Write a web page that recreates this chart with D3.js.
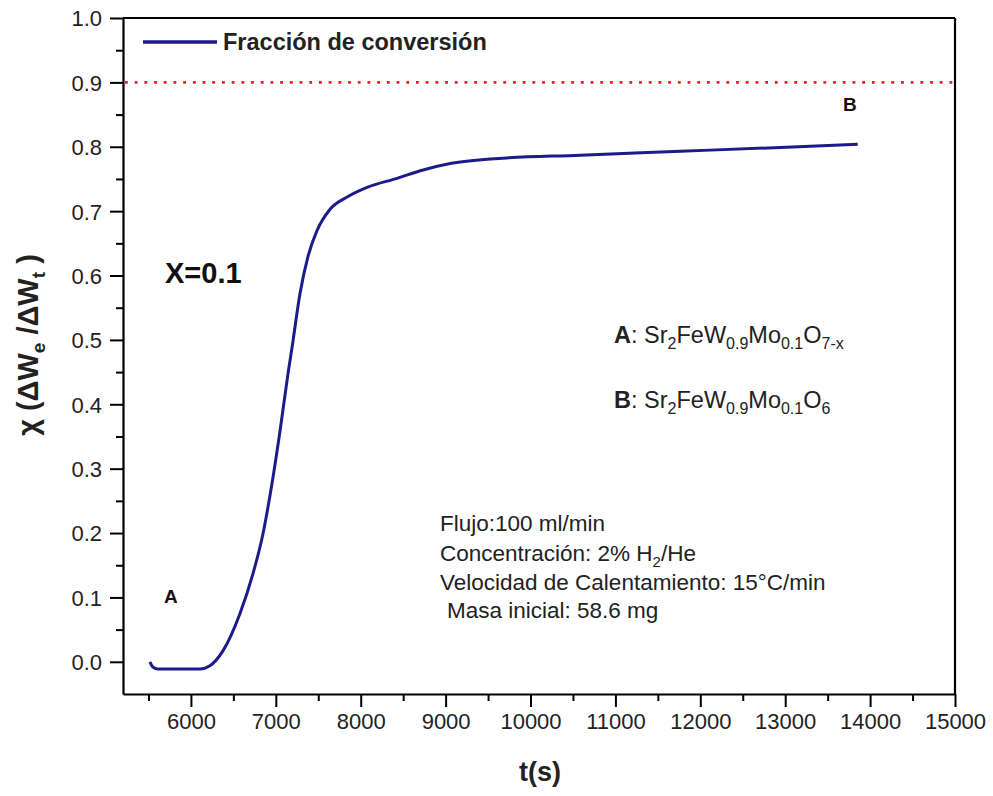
<!DOCTYPE html>
<html>
<head>
<meta charset="utf-8">
<script src="https://cdn.jsdelivr.net/npm/d3@7"></script>
<style>
  html, body { margin: 0; padding: 0; background: #fff; }
  svg { display: block; font-family: Arial, "Liberation Sans", sans-serif; }
</style>
</head>
<body>
<svg id="chart" width="993" height="796"></svg>
<script>
// ---- data ----
const timeS = [5517, 5552, 5611, 5870, 6106, 6224, 6377, 6578, 6731, 6849, 6955, 7050, 7144, 7191, 7285, 7380, 7486, 7639, 7840, 8075, 8429, 8736, 9054, 9526, 10587, 11766, 12946, 13854];
const conversion = [0.000, -0.008, -0.011, -0.011, -0.011, -0.006, 0.017, 0.075, 0.137, 0.199, 0.277, 0.359, 0.448, 0.488, 0.572, 0.630, 0.670, 0.703, 0.722, 0.737, 0.751, 0.764, 0.774, 0.781, 0.787, 0.793, 0.799, 0.804];
const xTicks = [6000, 7000, 8000, 9000, 10000, 11000, 12000, 13000, 14000, 15000];
const xMinorTicks = [5500, 6500, 7500, 8500, 9500, 10500, 11500, 12500, 13500, 14500];
const yTicks = [0.0, 0.1, 0.2, 0.3, 0.4, 0.5, 0.6, 0.7, 0.8, 0.9, 1.0];
const yMinorTicks = [0.05, 0.15, 0.25, 0.35, 0.45, 0.55, 0.65, 0.75, 0.85, 0.95];
const xDomain = [5200, 15000];
const yDomain = [-0.05, 1.0];
const referenceLevel = 0.9;
const legendLabel = "Fracción de conversión";
const infoLines = ["Flujo:100 ml/min", "Concentración: 2% H|2|/He", "Velocidad de Calentamiento: 15°C/min", "Masa inicial: 58.6 mg"];

// ---- layout ----
const svg = d3.select("#chart");
const margin = {left: 123, right: 38, top: 18, bottom: 102};
const W = 993, H = 796;
const x = d3.scaleLinear().domain(xDomain).range([margin.left, W - margin.right]);
const y = d3.scaleLinear().domain(yDomain).range([H - margin.bottom, margin.top]);
const navy = "#1b1b8a";

// minor ticks
svg.append("g").attr("transform", `translate(0,${H - margin.bottom})`)
  .call(d3.axisBottom(x).tickValues(xMinorTicks).tickSize(7).tickSizeOuter(0).tickFormat(""))
  .call(g => g.select(".domain").remove())
  .call(g => g.selectAll("line").attr("stroke", "#000").attr("stroke-width", 2))
  .call(g => g.selectAll("text").remove());
svg.append("g").attr("transform", `translate(${margin.left},0)`)
  .call(d3.axisLeft(y).tickValues(yMinorTicks).tickSize(7).tickSizeOuter(0).tickFormat(""))
  .call(g => g.select(".domain").remove())
  .call(g => g.selectAll("line").attr("stroke", "#000").attr("stroke-width", 2))
  .call(g => g.selectAll("text").remove());

// major axes
const xAxis = svg.append("g").attr("transform", `translate(0,${H - margin.bottom})`)
  .call(d3.axisBottom(x).tickValues(xTicks).tickSize(13).tickSizeOuter(0).tickPadding(6).tickFormat(d3.format("d")));
const yAxis = svg.append("g").attr("transform", `translate(${margin.left},0)`)
  .call(d3.axisLeft(y).tickValues(yTicks).tickSize(13).tickSizeOuter(0).tickPadding(8).tickFormat(d3.format(".1f")));
[xAxis, yAxis].forEach(g => {
  g.select(".domain").attr("stroke", "#000").attr("stroke-width", 2.2);
  g.selectAll(".tick line").attr("stroke", "#000").attr("stroke-width", 2);
  g.selectAll(".tick text").attr("fill", "#222").style("font-size", "22px").style("font-family", "Arial, 'Liberation Sans', sans-serif");
});
yAxis.selectAll(".tick text").attr("dy", "0.36em");

// box top & right
svg.append("line").attr("x1", margin.left).attr("x2", W - margin.right).attr("y1", margin.top).attr("y2", margin.top)
  .attr("stroke", "#000").attr("stroke-width", 2.2);
svg.append("line").attr("x1", W - margin.right).attr("x2", W - margin.right).attr("y1", margin.top).attr("y2", H - margin.bottom)
  .attr("stroke", "#000").attr("stroke-width", 2.2);

// reference dotted line
svg.append("line").attr("x1", margin.left + 2).attr("x2", W - margin.right - 2)
  .attr("y1", y(referenceLevel)).attr("y2", y(referenceLevel))
  .attr("stroke", "#ee1c25").attr("stroke-width", 2.8).attr("stroke-dasharray", "2.8,6.9");

// curve
const pts = timeS.map((t, i) => [t, conversion[i]]);
svg.append("path").datum(pts)
  .attr("d", d3.line().x(d => x(d[0])).y(d => y(d[1])).curve(d3.curveMonotoneX))
  .attr("fill", "none").attr("stroke", navy).attr("stroke-width", 3);

// legend
svg.append("line").attr("x1", 143).attr("x2", 217).attr("y1", 42).attr("y2", 42)
  .attr("stroke", navy).attr("stroke-width", 3.5);
svg.append("text").attr("x", 223).attr("y", 50).attr("font-weight", "bold").attr("font-size", 23.5).attr("fill", "#222")
  .text(legendLabel);

// annotations
svg.append("text").attr("x", 165).attr("y", 283).attr("font-weight", "bold").attr("font-size", 29).attr("fill", "#111").text("X=0.1");
svg.append("text").attr("x", 164).attr("y", 603).attr("font-weight", "bold").attr("font-size", 19).attr("fill", "#111").text("A");
svg.append("text").attr("x", 843).attr("y", 111).attr("font-weight", "bold").attr("font-size", 19).attr("fill", "#111").text("B");

// text with subscripts: parts like "a|sub|b"
function richText(xp, yp, size, subSize, str, boldFirst) {
  const t = svg.append("text").attr("x", xp).attr("y", yp).attr("font-size", size).attr("fill", "#222");
  const segs = str.split("|");
  let shifted = false;
  segs.forEach((seg, j) => {
    if (seg === "") return;
    const sp = t.append("tspan");
    if (j % 2 === 1) { sp.attr("font-size", subSize).attr("dy", 6); shifted = true; }
    else if (shifted) { sp.attr("dy", -6); shifted = false; }
    if (j === 0 && boldFirst) {
      sp.text("");
      sp.append("tspan").attr("font-weight", "bold").text(seg.slice(0, 1));
      sp.append("tspan").text(seg.slice(1));
    } else sp.text(seg);
  });
  return t;
}
richText(614, 343, 23.5, 16, "A: Sr|2|FeW|0.9|Mo|0.1|O|7-x", true);
richText(614, 408, 23.5, 16, "B: Sr|2|FeW|0.9|Mo|0.1|O|6", true);

// info block
const infoX = [440, 440, 440, 447];
const infoY = [531, 561, 590, 618];
infoLines.forEach((line, i) => richText(infoX[i], infoY[i], 22.5, 15, line, false));

// axis titles
svg.append("text").attr("x", 540).attr("y", 781).attr("text-anchor", "middle")
  .attr("font-weight", "bold").attr("font-size", 27).attr("fill", "#222").text("t(s)");
const yt = svg.append("text").attr("transform", "translate(38,345) rotate(-90)").attr("text-anchor", "middle")
  .attr("font-weight", "bold").attr("font-size", 29).attr("fill", "#222");
yt.append("tspan").text("χ (ΔW");
yt.append("tspan").attr("font-size", 19).attr("dy", 7).text("e");
yt.append("tspan").attr("dy", -7).text(" /ΔW");
yt.append("tspan").attr("font-size", 19).attr("dy", 7).text("t");
yt.append("tspan").attr("dy", -7).text(" )");
</script>
</body>
</html>
